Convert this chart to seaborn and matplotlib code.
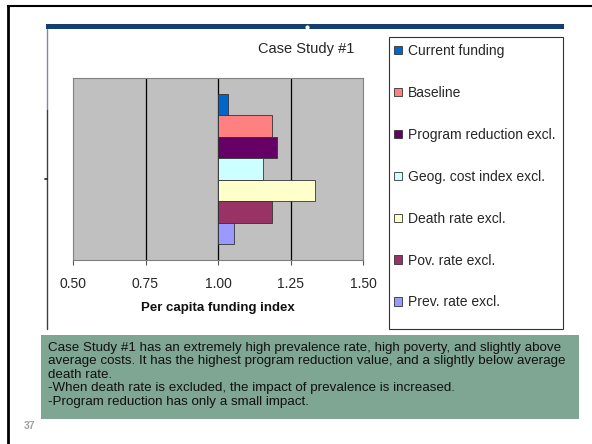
import numpy as np
import pandas as pd
import matplotlib
matplotlib.use("Agg")
import matplotlib.pyplot as plt
import seaborn as sns
from matplotlib.patches import Rectangle, Patch
from matplotlib.lines import Line2D

# ---------------- data ----------------
series = ["Current funding", "Baseline", "Program reduction excl.",
          "Geog. cost index excl.", "Death rate excl.", "Pov. rate excl.",
          "Prev. rate excl."]
values = [1.035, 1.185, 1.205, 1.155, 1.335, 1.185, 1.055]
colors = ["#0066CC", "#FF8080", "#660066", "#CCFFFF", "#FFFFCC", "#993366", "#9999FF"]
ticks = [0.50, 0.75, 1.00, 1.25, 1.50]
tick_labels = ["0.50", "0.75", "1.00", "1.25", "1.50"]
baseline = 1.0
title = "Case Study #1"
xlabel = "Per capita funding index"
note_lines = [
    "Case Study #1 has an extremely high prevalence rate, high poverty, and slightly above",
    "average costs. It has the highest program reduction value, and a slightly below average",
    "death rate.",
    "-When death rate is excluded, the impact of prevalence is increased.",
    "-Program reduction has only a small impact.",
]
page_number = "37"

# ---------------- figure ----------------
sns.set_style("white")
plt.rcParams["font.family"] = ["Liberation Sans", "DejaVu Sans"]

W, H = 592, 444
fig = plt.figure(figsize=(W / 100, H / 100), dpi=100)
fig.patch.set_facecolor("white")


def fx(x):
    return x / W


def fy(y):
    return 1 - y / H


# slide decorations
fig.add_artist(Line2D([fx(8), fx(8)], [fy(5), 0], transform=fig.transFigure,
                      color="black", lw=2.0, solid_capstyle="butt"))
fig.add_artist(Line2D([fx(7), 1], [fy(6), fy(6)], transform=fig.transFigure,
                      color="black", lw=1.5, solid_capstyle="butt"))
fig.add_artist(Rectangle((fx(46), fy(29)), 518 / W, 5 / H, transform=fig.transFigure,
                         facecolor="#123F70", edgecolor="none"))
fig.add_artist(Line2D([fx(307)], [fy(27)], transform=fig.transFigure, marker="o",
                      markersize=2, color="white", lw=0))
fig.add_artist(Line2D([fx(47), fx(47)], [fy(29), fy(110)], transform=fig.transFigure,
                      color="#7F86B0", lw=1.0))
fig.add_artist(Line2D([fx(47), fx(47)], [fy(110), fy(329)], transform=fig.transFigure,
                      color="#404040", lw=1.0))
fig.add_artist(Line2D([fx(45), fx(47)], [fy(179), fy(179)], transform=fig.transFigure,
                      color="#202020", lw=1.2))

# chart
ax = fig.add_axes([fx(73), fy(260), 290 / W, 182 / H])
df = pd.DataFrame({"series": series, "delta": np.array(values) - baseline})
sns.barplot(data=df, x="delta", y="series", hue="series", order=series,
            hue_order=series, palette=dict(zip(series, colors)), width=1.0,
            dodge=False, legend=False, saturation=1, edgecolor="#333333",
            linewidth=0.6, orient="h", ax=ax, zorder=2)
ax.set_facecolor("#C0C0C0")
ax.set_xlim(ticks[0] - baseline, ticks[-1] - baseline)
ax.set_ylim(len(series) - 0.5 + 0.75, -0.5 - 0.75)
for t in ticks[1:-1]:
    ax.axvline(t - baseline, color="black", lw=0.9, zorder=1)
ax.set_xticks([t - baseline for t in ticks])
ax.set_xticklabels(tick_labels)
ax.set_yticks([])
ax.set_ylabel("")
ax.set_xlabel(xlabel, fontsize=9.5, fontweight="bold", labelpad=8, color="#111111")
ax.tick_params(axis="x", direction="out", length=3.5, width=0.8, color="#555555",
               pad=8.5, labelsize=10, bottom=True)
for s in ax.spines.values():
    s.set_visible(True)
    s.set_color("#808080")
    s.set_linewidth(0.8)

fig.text(fx(306), fy(49), title, ha="center", va="center", fontsize=10.5)

# legend
handles = [Patch(facecolor=c, edgecolor="#333333", lw=0.6) for c in colors]
fig.legend(handles, series, loc="upper left", bbox_to_anchor=(fx(394), fy(44)),
           frameon=False, fontsize=10, handlelength=0.55, handleheight=0.55,
           handletextpad=0.45, labelspacing=2.01, borderaxespad=0, borderpad=0)
fig.add_artist(Rectangle((fx(389), fy(329)), 174 / W, 292 / H, transform=fig.transFigure,
                         fill=False, edgecolor="#333333", lw=0.8))

# note box
fig.add_artist(Rectangle((fx(41), fy(419)), 538 / W, 84 / H, transform=fig.transFigure,
                         facecolor="#7FA593", edgecolor="none"))
fig.text(fx(48), fy(342), "\n".join(note_lines), ha="left", va="top", fontsize=9.6,
         linespacing=1.16, color="#111111")
fig.text(fx(24), fy(426), page_number, ha="left", va="center", fontsize=7.5,
         color="#A0A0A0", fontweight="bold")

fig.savefig("out.png", dpi=100)
